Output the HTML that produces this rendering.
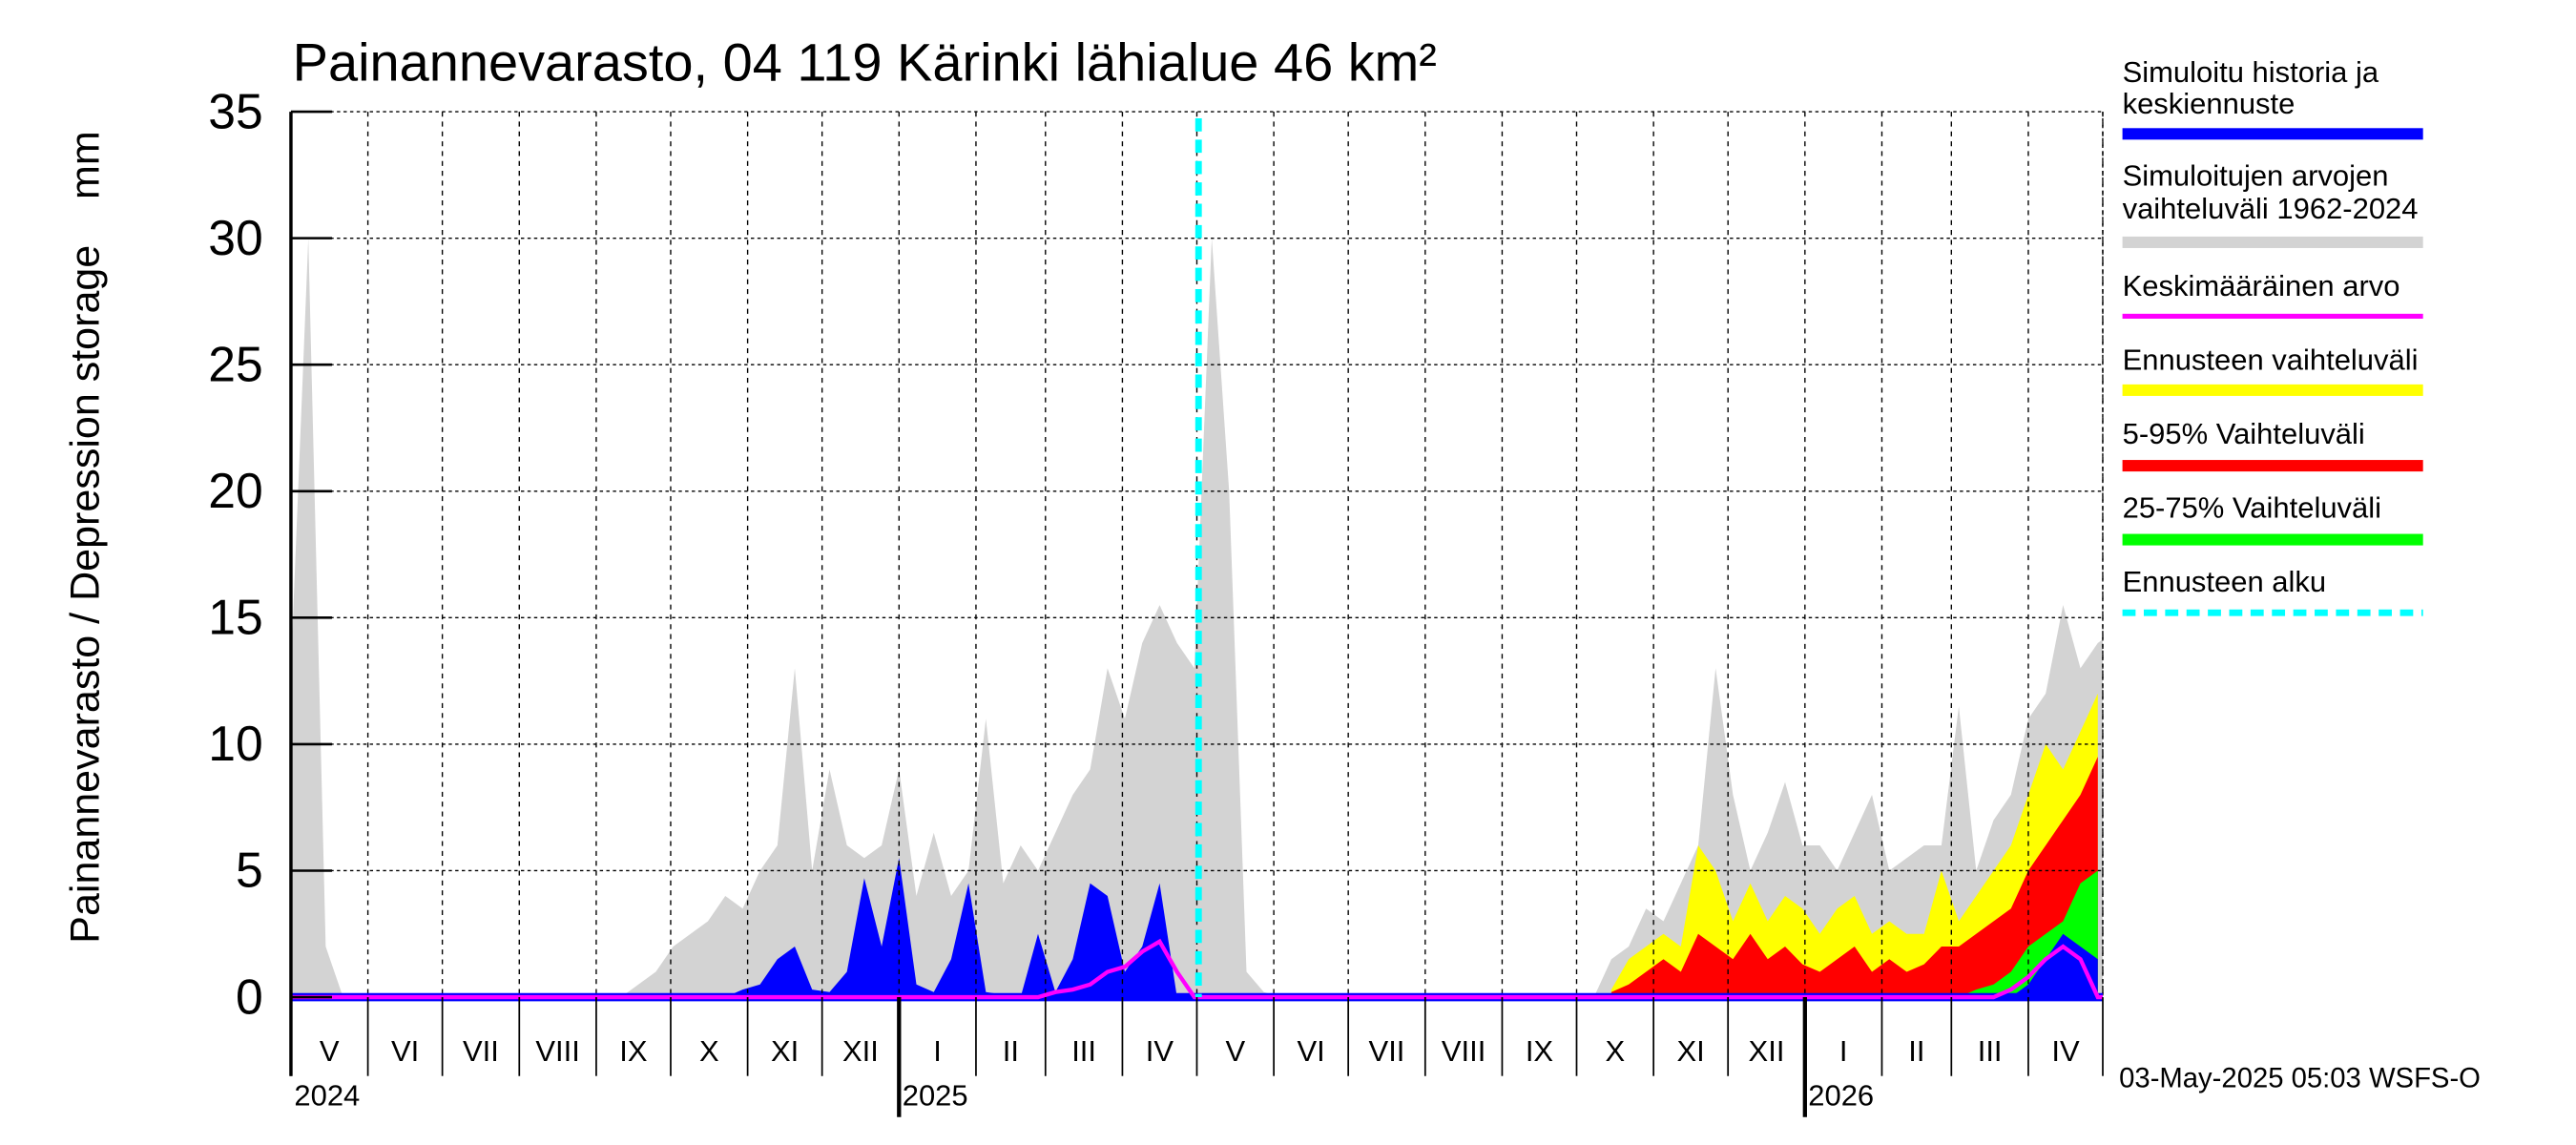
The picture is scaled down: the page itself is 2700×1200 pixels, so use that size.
<!DOCTYPE html>
<html><head><meta charset="utf-8">
<style>
html,body{margin:0;padding:0;background:#fff;}
svg{display:block;font-family:"Liberation Sans",sans-serif;}
</style></head>
<body>
<svg id="chart" width="2700" height="1200" viewBox="0 0 1568 697" xmlns="http://www.w3.org/2000/svg">
<defs><clipPath id="pc"><rect x="177" y="60" width="1103" height="600"/></clipPath></defs>
<rect x="0" y="0" width="1568" height="697" fill="#fff"/>
<g id="bands" clip-path="url(#pc)"></g>
<g id="grid"></g>
<g id="lines" clip-path="url(#pc)"></g>
<g id="axes"></g>
<text x="178" y="49" font-size="32.5">Painannevarasto, 04 119 Kärinki lähialue 46 km²</text>
<text transform="translate(60,327) rotate(-90)" text-anchor="middle" font-size="25" xml:space="preserve">Painannevarasto / Depression storage    mm</text>
<text x="1290" y="662" font-size="17">03-May-2025 05:03 WSFS-O</text>
<g font-size="18">
<text x="1292" y="50">Simuloitu historia ja</text>
<text x="1292" y="69">keskiennuste</text>
<rect x="1292" y="78" width="183" height="7" fill="#0000ff"/>
<text x="1292" y="113">Simuloitujen arvojen</text>
<text x="1292" y="133">vaihteluväli 1962-2024</text>
<rect x="1292" y="144" width="183" height="7" fill="#d3d3d3"/>
<text x="1292" y="180">Keskimääräinen arvo</text>
<rect x="1292" y="191" width="183" height="3" fill="#ff00ff"/>
<text x="1292" y="225">Ennusteen vaihteluväli</text>
<rect x="1292" y="234" width="183" height="7" fill="#ffff00"/>
<text x="1292" y="270">5-95% Vaihteluväli</text>
<rect x="1292" y="280" width="183" height="7" fill="#ff0000"/>
<text x="1292" y="315">25-75% Vaihteluväli</text>
<rect x="1292" y="325" width="183" height="7" fill="#00ff00"/>
<text x="1292" y="360">Ennusteen alku</text>
<line x1="1292" y1="373" x2="1475" y2="373" stroke="#00ffff" stroke-width="4" stroke-dasharray="8,5"/>
</g>
</svg>
<script>
// weekly values, week k = day 7k from 2024-05-01
const greyMax=[13,30,2,0,0,0,0,0,0,0,0,0,0,0,0,0,0,0,0,0,0.5,1,2,2.5,3,4,3.5,5,6,13,5,9,6,5.5,6,9,4,6.5,4,5,11,4.5,6,5,6.5,8,9,13,11,14,15.5,14,13,30,20,1,0.2,0,0,0,0,0,0,0,0,0,0,0,0,0,0,0,0,0,0,0,1.5,2,3.5,3,4.5,6,13,8,5,6.5,8.5,6,6,5,6.5,8,5,5.5,6,6,11.5,5,7,8,11,12,15.5,13,14,14.5];
const blueHist=[0,0,0,0,0,0,0,0,0,0,0,0,0,0,0,0,0,0,0,0,0,0,0,0,0,0,0.3,0.5,1.5,2,0.3,0.2,1,4.7,2,5.5,0.5,0.2,1.5,4.5,0.2,0.1,0,2.5,0.2,1.5,4.5,4,1,2,4.5,0,0];
const fcStart=76;
const yellowUp=[0.3,1.5,2,2.5,2,6,5,3,4.5,3,4,3.5,2.5,3.5,4,2.5,3,2.5,2.5,5,3,4,5,6,8,10,9,10.5,12];
const redUp=[0.2,0.5,1,1.5,1,2.5,2,1.5,2.5,1.5,2,1.3,1,1.5,2,1,1.5,1,1.3,2,2,2.5,3,3.5,5,6,7,8,9.5];
const greenUp=[0,0,0,0,0,0,0,0,0,0,0,0,0,0,0,0,0,0,0,0,0,0.3,0.5,1,2,2.5,3,4.5,5];
const blueFc=[0,0,0,0,0,0,0,0,0,0,0,0,0,0,0,0,0,0,0,0,0,0,0,0,0.5,1.5,2.5,2,1.5];
const meanVals=[0,0,0,0,0,0,0,0,0,0,0,0,0,0,0,0,0,0,0,0,0,0,0,0,0,0,0,0,0,0,0,0,0,0,0,0,0,0,0,0,0,0,0,0,0.2,0.3,0.5,1,1.2,1.8,2.2,1,0,0,0,0,0,0,0,0,0,0,0,0,0,0,0,0,0,0,0,0,0,0,0,0,0,0,0,0,0,0,0,0,0,0,0,0,0,0,0,0,0,0,0,0,0,0,0,0.3,0.8,1.5,2,1.5,0];
const yTicks=[0,5,10,15,20,25,30,35];
const months=["V","VI","VII","VIII","IX","X","XI","XII","I","II","III","IV","V","VI","VII","VIII","IX","X","XI","XII","I","II","III","IV"];
const monthDays=[31,30,31,31,30,31,30,31,31,28,31,30,31,30,31,31,30,31,30,31,31,28,31,30];
const years=[{label:"2024",m:0},{label:"2025",m:8},{label:"2026",m:20}];
const forecastDay=367;

const NS="http://www.w3.org/2000/svg";
const X0=177,PXD=1.511,Y0=607,PXMM=15.4,XR=1280,YT=68;
const xd=d=>X0+d*PXD, xk=k=>xd(k*7), y=v=>Y0-v*PXMM;
function mk(tag,attrs,parent){const e=document.createElementNS(NS,tag);for(const a in attrs)e.setAttribute(a,attrs[a]);parent.appendChild(e);return e;}
const bands=document.getElementById('bands'),grid=document.getElementById('grid'),lines=document.getElementById('lines'),axes=document.getElementById('axes');
function area(vals,k0,color,name){
  let p=`M${xk(k0)},${y(0)}`;
  vals.forEach((v,i)=>{p+=` L${xk(k0+i)},${y(v)}`;});
  p+=` L${xk(k0+vals.length-1)},${y(0)} Z`;
  const e=mk('path',{d:p,fill:color},bands);
  
  
}
area(greyMax,0,'#d3d3d3','historical-range-area');
area(yellowUp,fcStart,'#ffff00','forecast-range-area');
area(redUp,fcStart,'#ff0000','forecast-5-95-area');
area(greenUp,fcStart,'#00ff00','forecast-25-75-area');
area(blueHist,0,'#0000ff','simulated-history-area');
area(blueFc,fcStart,'#0000ff','forecast-median-area');

let d=0;
const bounds=[0];
monthDays.forEach(md=>{d+=md;bounds.push(d);});
bounds.forEach((b,i)=>{
  if(i>0){
    const g=mk('line',{x1:xd(b),y1:YT,x2:xd(b),y2:Y0,stroke:'#000','stroke-width':0.8,'stroke-dasharray':'3,3'},grid);
    
    
  }
  const isYear=years.some(yy=>yy.m===i&&i>0);
  const t=mk('line',{x1:xd(b),y1:Y0,x2:xd(b),y2:isYear?680:655,stroke:'#000','stroke-width':isYear?2.5:1},axes);
  
  
});
months.forEach((m,i)=>{
  const t=mk('text',{x:(xd(bounds[i])+xd(bounds[i+1]))/2,y:646,'text-anchor':'middle','font-size':18},axes);
  t.textContent=m;
  
  
});
years.forEach(yy=>{
  const t=mk('text',{x:xd(bounds[yy.m])+2,y:673,'font-size':18},axes);
  t.textContent=yy.label;
  
  
});
yTicks.forEach(v=>{
  if(v>0){
    const g=mk('line',{x1:X0,y1:y(v),x2:XR,y2:y(v),stroke:'#000','stroke-width':0.8,'stroke-dasharray':'2,2'},grid);
    
    
  }
  const tk=mk('line',{x1:X0,y1:y(v),x2:X0+25,y2:y(v),stroke:'#000','stroke-width':1.5},axes);
  
  
  const t=mk('text',{x:160,y:y(v)+10,'text-anchor':'end','font-size':30},axes);
  t.textContent=v;
  
  
});
const rb=mk('line',{x1:XR,y1:YT,x2:XR,y2:Y0,stroke:'#000','stroke-width':0.8,'stroke-dasharray':'2,2'},grid);


const ax=mk('line',{x1:X0,y1:YT,x2:X0,y2:655,stroke:'#000','stroke-width':2},axes);



let bp='';
for(let k=0;k<greyMax.length;k++){bp+=(k?' L':'M')+xk(k)+','+y(0);}
bp+=' L'+XR+','+y(0);
const bl=mk('path',{d:bp,fill:'none',stroke:'#0000ff','stroke-width':5},lines);


let mp='';
meanVals.forEach((v,k)=>{mp+=(k?' L':'M')+xk(k)+','+y(v);});
mp+=' L'+XR+','+y(0);
const ml=mk('path',{d:mp,fill:'none',stroke:'#ff00ff','stroke-width':2.5},lines);


const fl=mk('line',{x1:xd(forecastDay)-2,y1:72,x2:xd(forecastDay)-2,y2:Y0,stroke:'#00ffff','stroke-width':4,'stroke-dasharray':'8,5'},lines);


</script>
</body></html>
